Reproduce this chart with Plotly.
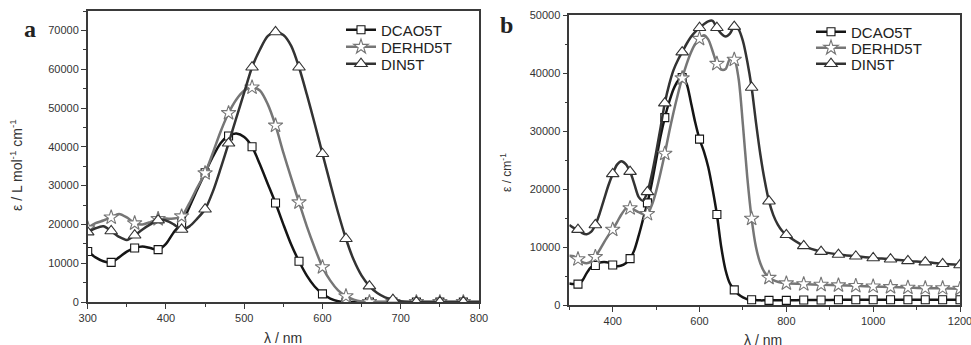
import plotly.graph_objects as go

# ---------------- Panel a data ----------------
wl_a = list(range(300, 801, 10))
dcao_a = [13000, 11500, 10500, 10200, 11500, 13000, 13900, 14300, 13900, 13500,
          15000, 18000, 20300, 24500, 29000, 33300, 37500, 41000, 42800, 43400,
          42500, 40000, 35500, 30500, 25500, 20000, 14800, 10500, 6800, 4000,
          2100, 900, 200, 0, 0, 0, 0, 0, 0, 0,
          0, 0, 0, 0, 0, 0, 0, 0, 0, 0, 0]
derhd_a = [19000, 20300, 21000, 21800, 22700, 21800, 20300, 20000, 20600, 21400,
           21500, 21500, 22100, 25500, 29500, 33200, 38500, 44000, 48700, 52200,
           54500, 55300, 54500, 51000, 45500, 38500, 32000, 25700, 19500, 14000,
           9000, 5500, 3000, 1500, 600, 150, 0, 0, 0, 0,
           0, 0, 0, 0, 0, 0, 0, 0, 0, 0, 0]
din_a = [18000, 19000, 19500, 18300, 16800, 16000, 17200, 18700, 20000, 21100,
         21000, 20000, 18700, 19500, 21500, 23900, 28500, 34500, 40900, 47500,
         54000, 60500, 65000, 68500, 69600, 68800, 66000, 60500, 53500, 46000,
         38200, 30500, 23000, 16300, 10800, 6800, 4100, 2300, 1200, 600,
         200, 0, 0, 0, 0, 0, 0, 0, 0, 0, 0]
marker_wl_a = list(range(300, 781, 30))

# ---------------- Panel b data ----------------
wl_b = list(range(300, 801, 10)) + list(range(840, 1201, 40))
dcao_b = [3700, 3600, 3600, 4200, 5500, 6500, 6800, 7300, 7400, 7300,
          6900, 6700, 6800, 7200, 8000, 9500, 12000, 14800, 17600, 21000,
          25000, 29000, 32300, 35000, 37200, 38600, 39200, 38200, 35000, 31500,
          28600, 26500, 23800, 20000, 15600, 10000, 6000, 3700, 2600, 1800,
          1300, 1000, 900, 850, 800, 800, 800, 800, 800, 800,
          800, 850, 850, 900, 900, 900, 900, 900, 900, 900, 900]
derhd_b = [8500, 8400, 7900, 7400, 7200, 7500, 8300, 9500, 10800, 12000,
           13000, 14300, 15600, 16600, 16700, 16400, 16000, 15700, 15700, 17200,
           19600, 22700, 26100, 29800, 33200, 36300, 39100, 41500, 43500, 45000,
           45900, 46500, 45800, 43800, 41600, 40600, 40700, 42400, 42300, 39000,
           31000, 22000, 14900, 10000, 7200, 5600, 4700, 4300, 4000, 3850,
           3750, 3600, 3500, 3400, 3300, 3200, 3100, 3000, 2900, 2900, 2800]
din_b = [13800, 13300, 13000, 12400, 12200, 12600, 13800, 15800, 18200, 20600,
         22600, 24200, 24800, 24300, 23000, 20800, 18600, 18000, 19500, 22500,
         26300, 30500, 34800, 38000, 40500, 42200, 43600, 45000, 46200, 47100,
         47800, 48400, 48900, 49000, 47800, 46800, 46300, 46800, 48000, 47500,
         45500, 42000, 37500, 31500, 26000, 21500, 17900, 15500, 13900, 12800,
         12100, 10200, 9200, 8700, 8400, 8100, 7900, 7600, 7400, 7100, 6900]
marker_wl_b = list(range(320, 1201, 40))

series_names = ["DCAO5T", "DERHD5T", "DIN5T"]
line_colors = ["#151515", "#767676", "#333333"]
symbols = ["square", "star", "triangle-up"]
msizes = [8, 11, 11]

FONT = "Liberation Sans, Arial, sans-serif"
W, H = 971, 345
fig = go.Figure()


def add_panel(wl, ys, marker_wl, xa, ya, legend_names):
    for name, y, col, sym, ms, lg in zip(series_names, ys, line_colors, symbols,
                                         msizes, legend_names):
        lookup = dict(zip(wl, y))
        fig.add_trace(go.Scatter(
            x=wl, y=y, mode="lines", xaxis=xa, yaxis=ya,
            line=dict(color=col, width=2.5, shape="spline", smoothing=0.8),
            showlegend=False, hoverinfo="skip"))
        fig.add_trace(go.Scatter(
            x=marker_wl, y=[lookup[w] for w in marker_wl], mode="markers",
            xaxis=xa, yaxis=ya,
            marker=dict(symbol=sym, size=ms, color="white",
                        line=dict(color=col, width=1.1)),
            showlegend=False))
        fig.add_trace(go.Scatter(
            x=[None], y=[None], mode="lines+markers", name=name,
            xaxis=xa, yaxis=ya, legend=lg,
            line=dict(color=col, width=2.5),
            marker=dict(symbol=sym, size=ms, color="white",
                        line=dict(color=col, width=1.1))))


add_panel(wl_a, [dcao_a, derhd_a, din_a], marker_wl_a, "x", "y",
          ["legend", "legend2", "legend3"])
add_panel(wl_b, [dcao_b, derhd_b, din_b], marker_wl_b, "x2", "y2",
          ["legend4", "legend5", "legend6"])

axis_common = dict(showline=True, linecolor="#3a3a3a", linewidth=1.5, mirror=True,
                   ticks="outside", ticklen=5, tickwidth=1.2, tickcolor="#3a3a3a",
                   showgrid=False, zeroline=False, tickformat="d", automargin=False,
                   ticklabeloverflow="allow",
                   tickfont=dict(family=FONT, size=11, color="#333333"))


def leg(xpx, ypx):
    return dict(x=xpx / W, y=(H - ypx) / H, xanchor="left", yanchor="middle",
                bgcolor="rgba(0,0,0,0)", borderwidth=0,
                font=dict(family=FONT, size=15, color="#222"), itemwidth=30)


leg_text_x_a, leg_rows_a = 391, [30, 47, 64]
leg_text_x_b, leg_rows_b = 861, [32, 48, 64]
LEG_OFF = 50

fig.update_layout(
    width=W, height=H, margin=dict(l=0, r=0, t=0, b=0, autoexpand=False),
    paper_bgcolor="white", plot_bgcolor="white",
    xaxis=dict(domain=[87.7 / W, 479 / W], range=[300, 800], dtick=100, tick0=300,
               minor=dict(ticks="outside", ticklen=3, dtick=50, tickcolor="#3a3a3a"),
               anchor="y", **axis_common),
    yaxis=dict(domain=[(H - 302) / H, (H - 11) / H], range=[0, 75000], dtick=10000,
               minor=dict(ticks="outside", ticklen=3, dtick=5000, tickcolor="#3a3a3a"),
               anchor="x", **axis_common),
    xaxis2=dict(domain=[569.3 / W, 960 / W], range=[300, 1200], dtick=200, tick0=400,
                minor=dict(ticks="outside", ticklen=3, dtick=100, tickcolor="#3a3a3a"),
                anchor="y2", **axis_common),
    yaxis2=dict(domain=[(H - 305) / H, (H - 15) / H], range=[0, 50000], dtick=10000,
                minor=dict(ticks="outside", ticklen=3, dtick=5000, tickcolor="#3a3a3a"),
                anchor="x2", **axis_common),
    legend=leg(leg_text_x_a - LEG_OFF, leg_rows_a[0]),
    legend2=leg(leg_text_x_a - LEG_OFF, leg_rows_a[1]),
    legend3=leg(leg_text_x_a - LEG_OFF, leg_rows_a[2]),
    legend4=leg(leg_text_x_b - LEG_OFF, leg_rows_b[0]),
    legend5=leg(leg_text_x_b - LEG_OFF, leg_rows_b[1]),
    legend6=leg(leg_text_x_b - LEG_OFF, leg_rows_b[2]),
    showlegend=True,
)

annots = [
    dict(text="ε / L mol<sup>-1</sup> cm<sup>-1</sup>", x=16 / W, y=(H - 165) / H,
         textangle=-90, font=dict(family=FONT, size=14, color="#333")),
    dict(text="λ / nm", x=283 / W, y=(H - 338) / H,
         font=dict(family=FONT, size=14, color="#333")),
    dict(text="ε / cm<sup>-1</sup>", x=506 / W, y=(H - 172) / H,
         textangle=-90, font=dict(family=FONT, size=12, color="#333")),
    dict(text="λ / nm", x=763 / W, y=(H - 340) / H,
         font=dict(family=FONT, size=14, color="#333")),
    dict(text="<b>a</b>", x=30 / W, y=(H - 29) / H,
         font=dict(family="Liberation Serif, Times New Roman, serif", size=24, color="#222")),
    dict(text="<b>b</b>", x=507 / W, y=(H - 25) / H,
         font=dict(family="Liberation Serif, Times New Roman, serif", size=24, color="#222")),
]
for a in annots:
    fig.add_annotation(xref="paper", yref="paper", showarrow=False,
                       xanchor="center", yanchor="middle", **a)

fig.write_html("out.html", config={"displayModeBar": False},
               post_script="document.body.style.margin='0';")
